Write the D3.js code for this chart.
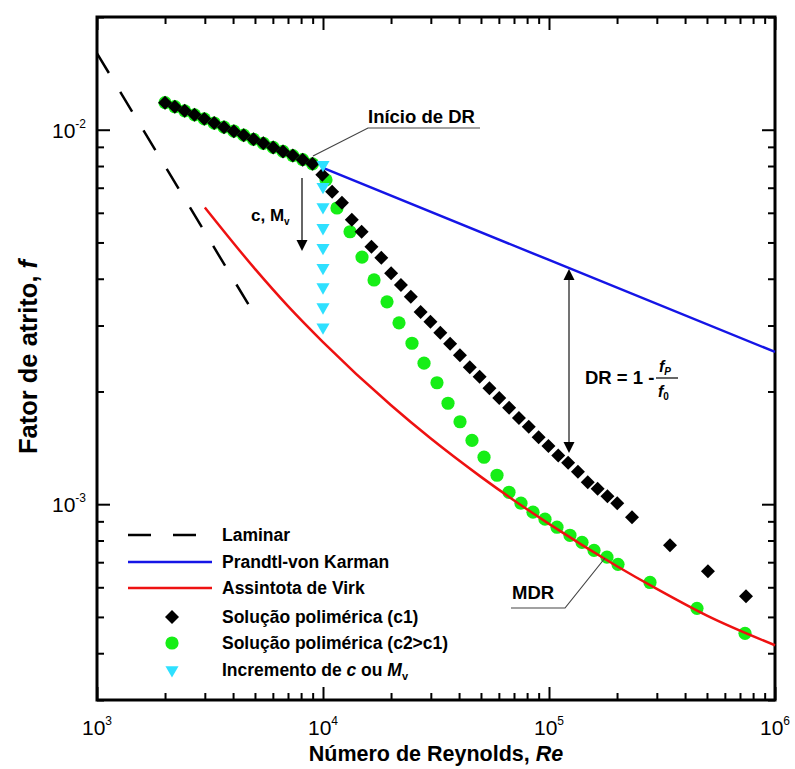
<!DOCTYPE html>
<html>
<head>
<meta charset="utf-8">
<script src="https://cdn.jsdelivr.net/npm/d3@7"></script>
<style>
  body { margin: 0; background: #fff; }
  svg { display: block; }
  text { font-family: "Liberation Sans", Arial, Helvetica, sans-serif; fill: #000; }
</style>
</head>
<body>
<svg id="chart" width="795" height="769"></svg>
<script>
// ---- data: Reynolds number vs Fanning friction factor ----
const laminarRe = [1000, 4700];
const laminarF  = [0.016, 0.0034];

const pvkRe = [1e4, 1e5, 1e6];
const pvkF  = [7.91e-3, 4.49e-3, 2.55e-3];

const virkRe = [3000, 5000, 7000, 1e4, 2e4, 3e4, 5e4, 1e5, 2e5, 3e5, 5e5, 1e6];
const virkF  = [6.2e-3, 4.25e-3, 3.38e-3, 2.71e-3, 1.837e-3, 1.497e-3, 1.183e-3, 8.86e-4, 6.83e-4, 5.94e-4, 5.04e-4, 4.2e-4];

// polymer solution, concentration c1
const c1Re = [2000, 2210, 2443, 2701, 2985, 3300, 3647, 4032, 4457, 4926, 5445, 6019, 6653, 7354, 8129, 8986,
              9930, 10975, 12131, 13410, 14823, 16385, 18111, 20019, 22128, 24460, 27037, 29886, 33035, 36515,
              40363, 44615, 49317, 54512, 60256, 66605, 73623, 81380, 89955, 99432, 109910, 121490, 134290,
              148440, 164080, 181370, 200480, 233000, 343000, 505000, 744000];
const c1F  = [0.01181, 0.01152, 0.01123, 0.01096, 0.01069, 0.01042, 0.01016, 0.00991, 0.00967, 0.00943, 0.00920,
              0.00897, 0.00875, 0.00853, 0.00832, 0.00811,
              7.58e-3, 6.83e-3, 6.38e-3, 5.75e-3, 5.34e-3, 4.87e-3, 4.55e-3, 4.14e-3, 3.85e-3, 3.58e-3, 3.26e-3,
              3.07e-3, 2.87e-3, 2.68e-3, 2.50e-3, 2.32e-3, 2.19e-3, 2.04e-3, 1.92e-3, 1.81e-3, 1.70e-3, 1.61e-3,
              1.51e-3, 1.43e-3, 1.35e-3, 1.29e-3, 1.22e-3, 1.145e-3, 1.10e-3, 1.05e-3, 1.006e-3,
              9.23e-4, 7.77e-4, 6.62e-4, 5.68e-4];

// polymer solution, concentration c2 > c1
const c2Re = [2000, 2210, 2443, 2701, 2985, 3300, 3647, 4032, 4457, 4926, 5445, 6019, 6653, 7354, 8129, 8986,
              10310, 11530, 13170, 14880, 16820, 19200, 21690, 24760, 27990, 31940, 35740, 40390, 45630, 51580,
              58880, 66530, 75160, 84960, 96000, 108500, 123800, 140000, 158200, 180500, 202000, 279900,
              451700, 736800];
const c2F  = [0.01181, 0.01152, 0.01123, 0.01096, 0.01069, 0.01042, 0.01016, 0.00991, 0.00967, 0.00943, 0.00920,
              0.00897, 0.00875, 0.00853, 0.00832, 0.00811,
              7.35e-3, 6.18e-3, 5.34e-3, 4.57e-3, 3.97e-3, 3.47e-3, 3.05e-3, 2.69e-3, 2.38e-3, 2.11e-3, 1.86e-3,
              1.66e-3, 1.48e-3, 1.335e-3, 1.195e-3, 1.076e-3, 1.006e-3, 9.52e-4, 9.12e-4, 8.68e-4, 8.26e-4,
              7.91e-4, 7.53e-4, 7.22e-4, 6.91e-4, 6.18e-4, 5.27e-4, 4.52e-4];

// onset of drag reduction for increasing c or Mv
const incRe = [1e4, 1e4, 1e4, 1e4, 1e4, 1e4, 1e4, 1e4, 1e4];
const incF  = [8.06e-3, 7.04e-3, 6.22e-3, 5.47e-3, 4.84e-3, 4.28e-3, 3.80e-3, 3.36e-3, 2.97e-3];

const xDecades = [1e3, 1e4, 1e5, 1e6];
const xDecadeExp = ["3", "4", "5", "6"];
const yDecades = [1e-3, 1e-2];
const yDecadeExp = ["-3", "-2"];

// ---- layout ----
const svg = d3.select("#chart");
const plotL = 97, plotR = 775, plotT = 17, plotB = 700;

const x = d3.scaleLog().domain([1e3, 1e6]).range([plotL, plotR]);
const y = d3.scaleLog().domain([3e-4, 0.02]).range([plotB, plotT]);

const zip = (a, b) => a.map((v, i) => [v, b[i]]);

// minor tick values on each axis
const xMinor = [];
[1e3, 1e4, 1e5].forEach(d => { for (let k = 2; k <= 9; k++) xMinor.push(d * k); });
const yMinor = [];
[1e-4, 1e-3, 1e-2].forEach(d => { for (let k = 2; k <= 9; k++) { const v = d * k; if (v >= 3e-4 && v <= 0.02) yMinor.push(v); } });

function drawTicks(axisGen, vals, size, tr) {
  const g = svg.append("g").attr("transform", tr)
    .call(axisGen.tickValues(vals).tickSizeInner(size).tickSizeOuter(0).tickFormat(""));
  g.select(".domain").remove();
  g.selectAll(".tick line").attr("stroke", "#000").attr("stroke-width", 2);
}

// inward ticks on all four sides
drawTicks(d3.axisBottom(x), xMinor, -7, `translate(0,${plotB})`);
drawTicks(d3.axisBottom(x), xDecades, -13, `translate(0,${plotB})`);
drawTicks(d3.axisTop(x), xMinor, -7, `translate(0,${plotT})`);
drawTicks(d3.axisTop(x), xDecades, -13, `translate(0,${plotT})`);
drawTicks(d3.axisLeft(y), yMinor, -7, `translate(${plotL},0)`);
drawTicks(d3.axisLeft(y), yDecades, -13, `translate(${plotL},0)`);
drawTicks(d3.axisRight(y), yMinor, -7, `translate(${plotR},0)`);
drawTicks(d3.axisRight(y), yDecades, -13, `translate(${plotR},0)`);

// frame
svg.append("rect").attr("x", plotL).attr("y", plotT)
  .attr("width", plotR - plotL).attr("height", plotB - plotT)
  .attr("fill", "none").attr("stroke", "#000").attr("stroke-width", 3);

// tick labels: 10^n
xDecades.forEach((v, i) => {
  const t = svg.append("text").attr("x", x(v)).attr("y", 735)
    .attr("text-anchor", "middle").attr("font-size", 21);
  t.append("tspan").text("10");
  t.append("tspan").attr("dy", -10).attr("font-size", 12).text(xDecadeExp[i]);
});
yDecades.forEach((v, i) => {
  const t = svg.append("text").attr("x", 86).attr("y", y(v) + 8)
    .attr("text-anchor", "end").attr("font-size", 21);
  t.append("tspan").text("10");
  t.append("tspan").attr("dy", -10).attr("font-size", 12).text(yDecadeExp[i]);
});

// axis titles
const xt = svg.append("text").attr("x", (plotL + plotR) / 2).attr("y", 761)
  .attr("text-anchor", "middle").attr("font-size", 21.5).attr("font-weight", "bold");
xt.append("tspan").text("Número de Reynolds, ");
xt.append("tspan").attr("font-style", "italic").text("Re");

const yt = svg.append("text").attr("transform", "translate(37,357) rotate(-90)")
  .attr("text-anchor", "middle").attr("font-size", 25.5).attr("font-weight", "bold");
yt.append("tspan").text("Fator de atrito, ");
yt.append("tspan").attr("font-style", "italic").text("f");

// ---- plot content ----
const plot = svg.append("g");
const line = d3.line().x(d => x(d[0])).y(d => y(d[1]));
const smooth = d3.line().x(d => x(d[0])).y(d => y(d[1])).curve(d3.curveMonotoneX);

const GREEN = "#16ee16", CYAN = "#2ee0ff", BLUE = "#1515e6", RED = "#ee1111";

// c2 > c1 circles (beneath the curves)
plot.append("g").selectAll("circle").data(zip(c2Re, c2F)).join("circle")
  .attr("cx", d => x(d[0])).attr("cy", d => y(d[1])).attr("r", 6.6).attr("fill", GREEN);

// laminar, Prandtl-von Karman, Virk asymptote
plot.append("path").datum(zip(laminarRe, laminarF)).attr("d", line)
  .attr("fill", "none").attr("stroke", "#000").attr("stroke-width", 2.5).attr("stroke-dasharray", "23,22");
plot.append("path").datum(zip(pvkRe, pvkF)).attr("d", line)
  .attr("fill", "none").attr("stroke", BLUE).attr("stroke-width", 2.5);
plot.append("path").datum(zip(virkRe, virkF)).attr("d", smooth)
  .attr("fill", "none").attr("stroke", RED).attr("stroke-width", 2.5);

// c1 diamonds
const diamond = d3.symbol().type(d3.symbolSquare).size(98);
plot.append("g").selectAll("path").data(zip(c1Re, c1F)).join("path")
  .attr("d", diamond)
  .attr("transform", d => `translate(${x(d[0])},${y(d[1])}) rotate(45)`)
  .attr("fill", "#000");

// triangles for increasing c or Mv
const tri = d3.symbol().type(d3.symbolTriangle).size(74);
plot.append("g").selectAll("path").data(zip(incRe, incF)).join("path")
  .attr("d", tri)
  .attr("transform", d => `translate(${x(d[0])},${y(d[1])}) rotate(180)`)
  .attr("fill", CYAN);

// ---- annotations ----
const ann = svg.append("g");
const arrowHead = (cx, tipY, dir) => {
  const h = 11 * dir, w = 5.5;
  return `M${cx},${tipY} L${cx - w},${tipY - h} L${cx + w},${tipY - h} Z`;
};

// onset of drag reduction
ann.append("text").attr("x", 368).attr("y", 123).attr("font-size", 18.5).attr("font-weight", "bold").text("Início de DR");
ann.append("path").attr("d", "M480,128 L368,128 L313,156")
  .attr("fill", "none").attr("stroke", "#444").attr("stroke-width", 1.2);

// c, Mv arrow
const cm = ann.append("text").attr("x", 251).attr("y", 221).attr("font-size", 17).attr("font-weight", "bold");
cm.append("tspan").text("c, M");
cm.append("tspan").attr("dy", 4).attr("font-size", 10).text("v");
ann.append("line").attr("x1", 302).attr("x2", 302).attr("y1", 178).attr("y2", 241)
  .attr("stroke", "#333").attr("stroke-width", 1.5);
ann.append("path").attr("d", arrowHead(302, 251, 1)).attr("fill", "#000");

// drag reduction arrow between the Newtonian line and the c1 data
const drX = 569;
ann.append("line").attr("x1", drX).attr("x2", drX).attr("y1", 278).attr("y2", 444)
  .attr("stroke", "#444").attr("stroke-width", 1.5);
ann.append("path").attr("d", arrowHead(drX, 269, -1)).attr("fill", "#000");
ann.append("path").attr("d", arrowHead(drX, 453, 1)).attr("fill", "#000");

const dr = ann.append("text").attr("x", 585).attr("y", 384).attr("font-size", 18.5).attr("font-weight", "bold");
dr.text("DR = 1 -");
const num = ann.append("text").attr("x", 659).attr("y", 372).attr("font-size", 16).attr("font-weight", "bold").attr("font-style", "italic");
num.append("tspan").text("f");
num.append("tspan").attr("dy", 3).attr("font-size", 10).text("P");
ann.append("line").attr("x1", 656).attr("x2", 678).attr("y1", 378).attr("y2", 378).attr("stroke", "#000").attr("stroke-width", 1.2);
const den = ann.append("text").attr("x", 658).attr("y", 397).attr("font-size", 16).attr("font-weight", "bold").attr("font-style", "italic");
den.append("tspan").text("f");
den.append("tspan").attr("dy", 3).attr("font-size", 10).attr("font-style", "normal").text("0");

// maximum drag reduction label
ann.append("text").attr("x", 512).attr("y", 599).attr("font-size", 18.5).attr("font-weight", "bold").text("MDR");
ann.append("path").attr("d", "M511,608 L565,608 L605,558")
  .attr("fill", "none").attr("stroke", "#444").attr("stroke-width", 1.2);

// ---- legend ----
const lg = svg.append("g");
const rows = [535, 562, 588, 617, 643, 670];
const lx0 = 128, lx1 = 212, mx = 172, tx = 222;
lg.append("line").attr("x1", lx0).attr("x2", lx1).attr("y1", rows[0]).attr("y2", rows[0])
  .attr("stroke", "#000").attr("stroke-width", 2.5).attr("stroke-dasharray", "23,22");
lg.append("line").attr("x1", lx0).attr("x2", lx1).attr("y1", rows[1]).attr("y2", rows[1])
  .attr("stroke", BLUE).attr("stroke-width", 2.5);
lg.append("line").attr("x1", lx0).attr("x2", lx1).attr("y1", rows[2]).attr("y2", rows[2])
  .attr("stroke", RED).attr("stroke-width", 2.5);
lg.append("path").attr("d", diamond).attr("transform", `translate(${mx},${rows[3]}) rotate(45)`).attr("fill", "#000");
lg.append("circle").attr("cx", mx).attr("cy", rows[4]).attr("r", 6.6).attr("fill", GREEN);
lg.append("path").attr("d", tri).attr("transform", `translate(${mx},${rows[5]}) rotate(180)`).attr("fill", CYAN);

const labels = ["Laminar", "Prandtl-von Karman", "Assintota de Virk", "Solução polimérica (c1)", "Solução polimérica (c2>c1)"];
labels.forEach((s, i) => {
  lg.append("text").attr("x", tx).attr("y", rows[i] + 6).attr("font-size", 17.5).attr("font-weight", "bold").text(s);
});
const inc = lg.append("text").attr("x", tx).attr("y", rows[5] + 6).attr("font-size", 17.5).attr("font-weight", "bold");
inc.append("tspan").text("Incremento de ");
inc.append("tspan").attr("font-style", "italic").text("c");
inc.append("tspan").text(" ou ");
inc.append("tspan").attr("font-style", "italic").text("M");
inc.append("tspan").attr("dy", 4).attr("font-size", 11).text("v");
</script>
</body>
</html>
